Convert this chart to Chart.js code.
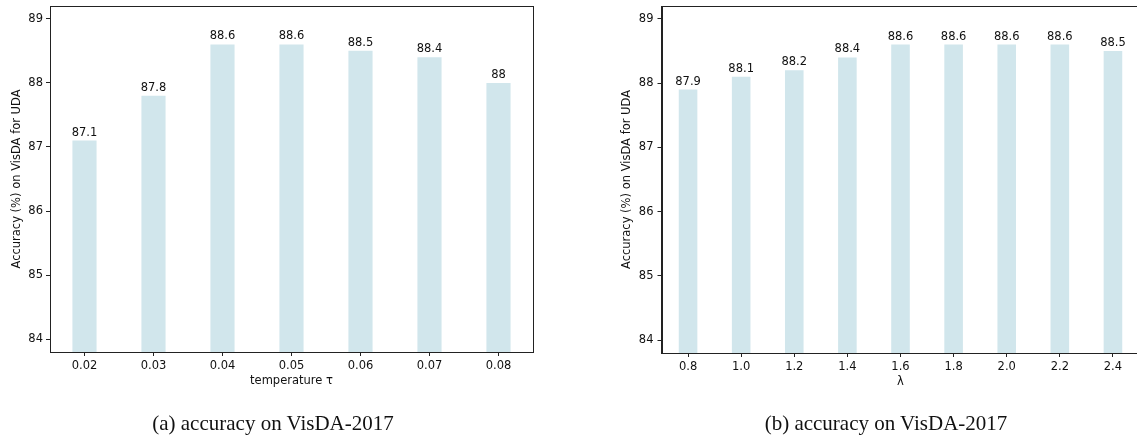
<!DOCTYPE html>
<html>
<head>
<meta charset="utf-8">
<script src="https://cdn.jsdelivr.net/npm/chart.js@4.4.0/dist/chart.umd.min.js"></script>
<style>
  html, body { margin: 0; padding: 0; background: #fff; overflow: hidden; }
  body { width: 1137px; height: 440px; position: relative; }
  canvas { position: absolute; top: 0; }
  .caption {
    position: absolute; top: 413px; width: 300px; text-align: center;
    font-family: "Liberation Serif", "Times New Roman", serif; font-size: 21px;
    line-height: 21px; color: #111; white-space: nowrap;
  }
</style>
</head>
<body>
<canvas id="chartTemp" width="568" height="440" style="left:0px"></canvas>
<canvas id="chartLambda" width="560" height="440" style="left:600px"></canvas>
<div class="caption" style="left:123px">(a) accuracy on VisDA-2017</div>
<div class="caption" style="left:736px">(b) accuracy on VisDA-2017</div>

<script>
// data
const tempLabels = ['0.02', '0.03', '0.04', '0.05', '0.06', '0.07', '0.08'];
const tempAcc = [87.1, 87.8, 88.6, 88.6, 88.5, 88.4, 88];
const lambdaLabels = ['0.8', '1.0', '1.2', '1.4', '1.6', '1.8', '2.0', '2.2', '2.4'];
const lambdaAcc = [87.9, 88.1, 88.2, 88.4, 88.6, 88.6, 88.6, 88.6, 88.5];
const yTicks = [84, 85, 86, 87, 88, 89];

const barColor = '#d1e6ec';
const axisColor = '#222';
const font = { family: 'DejaVu Sans', size: 11.5 };

// top/right spines, like matplotlib's box
const frame = {
    id: 'frame',
    afterDraw(chart) {
        const a = chart.chartArea;
        const ctx = chart.ctx;
        ctx.save();
        ctx.strokeStyle = axisColor;
        ctx.lineWidth = 1;
        ctx.strokeRect(Math.round(a.left) + 0.5, Math.round(a.top) + 0.5,
            Math.round(a.right) - Math.round(a.left), Math.round(a.bottom) - Math.round(a.top));
        ctx.restore();
    }
};

// value labels above each bar
const barLabels = {
    id: 'barLabels',
    afterDatasetsDraw(chart) {
        const ctx = chart.ctx;
        const meta = chart.getDatasetMeta(0);
        const values = chart.data.datasets[0].data;
        ctx.save();
        ctx.fillStyle = '#111';
        ctx.font = '11.5px "DejaVu Sans"';
        ctx.textAlign = 'center';
        ctx.textBaseline = 'alphabetic';
        meta.data.forEach((bar, i) => {
            ctx.fillText(String(values[i]), bar.x, bar.y - 5);
        });
        ctx.restore();
    }
};

function makeChart(id, labels, values, xTitle, opts) {
    const ctx = document.getElementById(id).getContext('2d');
    return new Chart(ctx, {
        type: 'bar',
        data: {
            labels: labels,
            datasets: [{
                data: values,
                backgroundColor: barColor,
                borderWidth: 0,
                categoryPercentage: 1,
                barPercentage: 0.35
            }]
        },
        options: {
            responsive: false,
            animation: false,
            layout: { padding: { left: 0, right: opts.padRight, top: 6, bottom: 0 } },
            plugins: {
                legend: { display: false },
                tooltip: { enabled: false }
            },
            scales: {
                x: {
                    offset: true,
                    grid: { offset: false, drawOnChartArea: false, drawTicks: true, tickLength: 4, color: axisColor },
                    border: { display: true, color: axisColor, width: 1 },
                    ticks: { color: '#111', font: font, padding: 3, maxRotation: 0 },
                    title: { display: true, text: xTitle, color: '#111', font: font, padding: { top: 0, bottom: opts.xTitlePad } },
                    afterFit: (s) => {
                        s.height = opts.xHeight;
                        s.paddingLeft = 0; s.paddingRight = 0;
                    }
                },
                y: {
                    min: 83.8,
                    max: 89.2,
                    afterBuildTicks: (s) => { s.ticks = yTicks.map(v => ({ value: v })); },
                    grid: { drawOnChartArea: false, drawTicks: true, tickLength: 4, color: axisColor },
                    border: { display: true, color: axisColor, width: 1 },
                    ticks: { color: '#111', font: font, padding: opts.yTickPad },
                    title: { display: true, text: 'Accuracy (%) on VisDA for UDA', color: '#111', font: font, padding: { top: opts.yTitlePad, bottom: 0 } },
                    afterFit: (s) => {
                        s.width = opts.yWidth;
                        s.paddingTop = 0; s.paddingBottom = 0;
                    }
                }
            }
        },
        plugins: [frame, barLabels]
    });
}

makeChart('chartTemp', tempLabels, tempAcc, 'temperature τ',
    { padRight: 35, xHeight: 88, xTitlePad: 52, yWidth: 50, yTitlePad: 10, yTickPad: 3 });
makeChart('chartLambda', lambdaLabels, lambdaAcc, 'λ',
    { padRight: 20.5, xHeight: 87, xTitlePad: 51, yWidth: 61.5, yTitlePad: 20, yTickPad: 4 });
</script>
</body>
</html>
